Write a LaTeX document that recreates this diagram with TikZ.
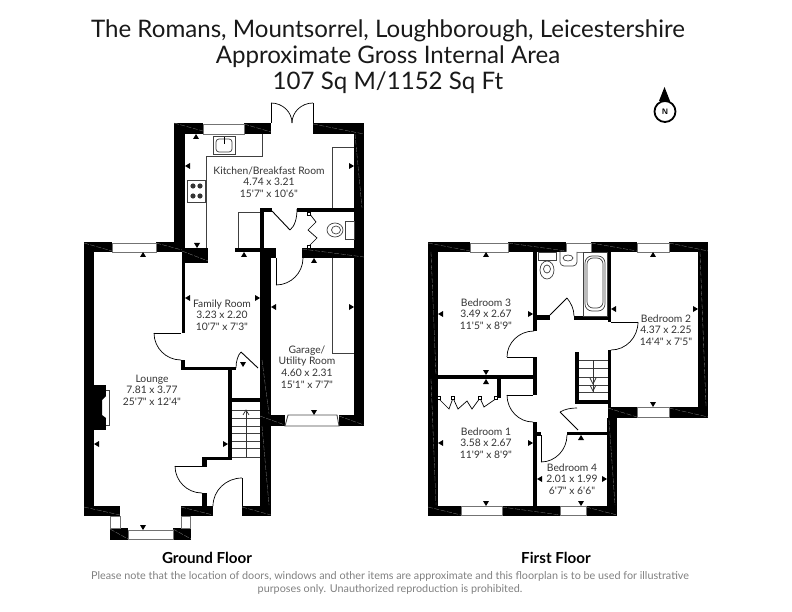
\documentclass[tikz,border=0pt]{standalone}
\usepackage{fontspec}
\usetikzlibrary{calc}
\newfontfamily\planfont{Lato}
\tikzset{
  wall/.style={fill=black,draw=none},
  seam/.style={draw=black!50,line width=0.3pt,dash pattern=on 5pt off 1.5pt},
  pane/.style={draw=black!55,line width=0.9pt,fill=white},
  fitting/.style={draw=black!75,line width=0.7pt,fill=white},
  leaf/.style={draw=black,line width=0.9pt},
  jamb/.style={draw=black,line width=0.5pt,fill=white},
  roomlabel/.style={align=center,inner sep=0pt,text=black!80,font=\planfont\fontsize{10.3}{11.6}\selectfont},
  floorlabel/.style={inner sep=0pt,font=\planfont\bfseries\fontsize{15.2}{15}\selectfont},
  tick/.pic={\fill[black] (0,0) -- (-3,5) -- (3,5) -- cycle;}
}
% quarter swing: hinge, open end of leaf, end on the wall
\newcommand{\doorswing}[3]{\draw[leaf] (#1) -- (#2);
  \draw[black,line width=0.7pt] (#2) .. controls ($(#2)+.552*(#3)-.552*(#1)$) and ($(#3)+.552*(#2)-.552*(#1)$) .. (#3);}
\begin{document}
\begin{tikzpicture}[x=1pt,y=-1pt]
  \useasboundingbox (0,0) rectangle (792,612);
  % heading
  \node (heading) at (388,57) [align=center,inner sep=0pt,text=black!90,font=\planfont\fontsize{24.1}{26}\selectfont]
    {The Romans, Mountsorrel, Loughborough, Leicestershire\\Approximate Gross Internal Area\\107 Sq M/1152 Sq Ft};
  % north point
  \draw[black,line width=1.8pt] (665,111.5) circle (10.5);
  \fill[black] (664.5,87) -- (659,101) -- (670,101) -- cycle;
  \node (north) at (665,112) [inner sep=0pt,font=\fontsize{8}{8}\selectfont\sffamily\bfseries] {N};

  % ---- ground floor walls
  \draw[wall] (174,123) rectangle (203,134);
  \draw[wall] (244,123) rectangle (271,134);
  \draw[wall] (313,123) rectangle (364,134);
  \draw[wall] (174,123) rectangle (185,252);
  \draw[wall] (354,123) rectangle (364,426);
  \draw[wall] (297,208) rectangle (364,212);
  \draw[wall] (260,208) rectangle (272,212);
  \draw[wall] (260,208) rectangle (264,248);
  \draw[wall] (235,248) rectangle (276,252);
  \draw[wall] (260,248) rectangle (276,258);
  \draw[wall] (260,248) rectangle (271,516);
  \draw[wall] (302,248) rectangle (364,258);
  \draw[wall] (84,242) rectangle (112,252);
  \draw[wall] (156,242) rectangle (185,252);
  \draw[wall] (182,248) rectangle (208,263);
  \draw[wall] (84,242) rectangle (94,516);
  \draw[wall] (84,506) rectangle (120,516);
  \draw[wall] (181,506) rectangle (213,516);
  \draw[wall] (242,506) rectangle (271,516);
  \draw[wall] (182,263) rectangle (185,333);
  \draw[wall] (181,360) rectangle (185,370);
  \draw[wall] (181,367) rectangle (236,370);
  \draw[wall] (228,370) rectangle (232,460);
  \draw[wall] (202,457) rectangle (232,460);
  \draw[wall] (202,457) rectangle (207,467);
  \draw[wall] (202,493) rectangle (207,506);
  \draw[wall] (232,398) rectangle (260,402);
  \draw[wall] (110,528) rectangle (128,540);
  \draw[wall] (173,528) rectangle (191,540);
  \draw[wall] (260,415) rectangle (285,426);
  \draw[wall] (339,415) rectangle (364,426);
  % ground floor windows
  \draw[pane] (203,124) rectangle (244,134);
  \draw[pane] (112,243) rectangle (156,252);
  \draw[pane] (128,530) rectangle (173,539.5);
  \draw[pane] (110.5,516) rectangle (120,528);
  \draw[pane] (181,516) rectangle (190.5,528);
  \draw[black!70,line width=0.9pt,fill=white] (285,426) -- (288,415) -- (337,415) -- (339,426) -- cycle;

  % ground floor doors
  \doorswing{271,123}{271,103}{292,123}
  \doorswing{313,123}{313,103}{292,123}
  \doorswing{181,333}{154,333}{181,360}
  \doorswing{202,466}{175,466}{202,493}
  \doorswing{242,506}{242,478}{213,506}
  \doorswing{276,258}{276,285}{303,258}
  \draw[leaf] (272,211) -- (290,230);
  \draw[black,line width=0.7pt] (290,230) .. controls (295,226) and (297,218) .. (297,209);
  \draw[leaf] (258,368) -- (241,352);
  \draw[black,line width=0.7pt] (241,352) .. controls (238,355) and (236,361) .. (236,368);
  \draw[black,line width=0.7pt] (309,213) -- (316,222) -- (308,230) -- (317,238) -- (309,246);
  \draw[jamb] (307.5,212) rectangle (310.5,215);
  \draw[jamb] (307.5,245) rectangle (310.5,248);

  % kitchen units
  \draw[fitting,fill=none] (262,134) -- (262,156) -- (206,156) -- (206,248);
  \draw[fitting,fill=none] (238,248) -- (238,212) -- (260,212);
  \draw[fitting,fill=none] (354,147) -- (332,147) -- (332,208);
  \draw[fitting,fill=none] (332,258) -- (332,353) -- (354,353);
  \draw[fitting] (213,136) rectangle (235,154);
  \draw[fitting,rounded corners=3pt] (216,139) rectangle (232,152);
  \draw[black,line width=1pt] (224,137) -- (224,144);
  \draw[fitting] (187,180) rectangle (205,202);
  \foreach \hobx in {193,200} {
    \foreach \hoby in {186,196} {
      \fill[black!80] (\hobx,\hoby) circle (2.6);
    }
  }
  % WC
  \draw[fitting] (345,221) rectangle (354,239);
  \draw[fitting] (335,230) ellipse (8 and 7);
  \draw[fitting] (336,230) ellipse (4.5 and 4);

  % fireplace
  \draw[wall] (94,385) rectangle (106,396);
  \draw[wall] (94,418) rectangle (106,430);
  \draw[wall] (94,396) -- (106,396) -- (102,400) -- (102,415) -- (106,418) -- (94,418) -- cycle;
  \draw[fitting,fill=none] (106,390) -- (109,390) -- (109,425) -- (106,425);

  % ground floor stairs
  \foreach \treadY in {410,418,426,433,441,448,457} {
    \draw[black!75,line width=0.7pt] (232,\treadY) -- (260,\treadY);
  }
  \draw[black!80,line width=0.7pt] (246,457) -- (246,410);
  \draw[black!80,line width=0.7pt] (243,415) -- (246,410) -- (249,415);

  % ---- first floor walls
  \draw[wall] (428,242) rectangle (470,252);
  \draw[wall] (508,242) rectangle (566,252);
  \draw[wall] (591,242) rectangle (637,252);
  \draw[wall] (669,242) rectangle (708,252);
  \draw[wall] (428,242) rectangle (438,516);
  \draw[wall] (698,242) rectangle (708,418);
  \draw[wall] (608,407) rectangle (637,418);
  \draw[wall] (669,407) rectangle (708,418);
  \draw[wall] (608,252) rectangle (611,322);
  \draw[wall] (608,350) rectangle (611,407);
  \draw[wall] (607,418) rectangle (617,516);
  \draw[wall] (428,506) rectangle (461,516);
  \draw[wall] (502,506) rectangle (560,516);
  \draw[wall] (586,506) rectangle (617,516);
  \draw[wall] (533,252) rectangle (537,331);
  \draw[wall] (533,315) rectangle (550,320);
  \draw[wall] (533,357) rectangle (537,379);
  \draw[wall] (438,375) rectangle (537,379);
  \draw[wall] (497,379) rectangle (501,398);
  \draw[wall] (533,379) rectangle (537,395);
  \draw[wall] (533,422) rectangle (537,506);
  \draw[wall] (537,432) rectangle (541,436);
  \draw[wall] (567,432) rectangle (607,435);
  \draw[wall] (574,316) rectangle (611,320);
  \draw[wall] (575,352) rectangle (579,404);
  \draw[wall] (575,400) rectangle (608,404);
  % first floor windows
  \draw[pane] (470,243) rectangle (508,252);
  \draw[pane] (566,243) rectangle (591,252);
  \draw[pane] (637,243) rectangle (669,252);
  \draw[pane] (637,407) rectangle (669,417);
  \draw[pane] (461,506) rectangle (502,515.5);
  \draw[pane] (560,506) rectangle (586,515.5);

  % wall seams
  \foreach \seamAx/\seamAy/\seamBx/\seamBy in {174/123/203/131, 244/124/271/132, 313/124/364/134, 84/243/112/251,
      156/243/182/250, 182/251/208/261, 84/507/120/515, 181/507/213/515, 242/507/271/515,
      110/529/128/539, 173/529/191/539, 260/416/285/425, 339/416/364/425, 302/249/364/257,
      428/243/470/251, 508/243/566/251, 591/243/637/251, 669/243/708/251,
      428/507/461/515, 502/507/560/515, 586/507/617/515, 608/408/637/417, 669/408/708/417,
      355/134/362/208, 262/360/269/414, 262/426/269/505, 700/252/706/406, 431/252/436/375,
      431/379/436/505, 609/420/615/505} {
    \draw[seam] (\seamAx,\seamAy) -- (\seamBx,\seamBy);
  }

  % first floor doors
  \doorswing{611,322}{638,322}{611,350}
  \doorswing{534,357}{507,357}{534,331}
  \doorswing{533,395}{507,395}{533,422}
  \doorswing{541,435}{541,462}{567,435}
  \draw[leaf] (550,315) -- (567,298);
  \draw[black,line width=0.7pt] (567,298) .. controls (571,303) and (574,309) .. (574,316);
  \draw[leaf] (578,430) -- (560,412);
  \draw[black,line width=0.7pt] (560,412) .. controls (565,409) and (571,408) .. (577,408);
  % bifold wardrobe
  \draw[black,line width=0.7pt] (438,398) -- (449,409) -- (453,398) -- (458,409) -- (467,401) -- (472,409) -- (480,398) -- (484,407) -- (497,398);
  \foreach \jambx in {439,453,480,496} {
    \draw[jamb] (\jambx-1.5,396.5) rectangle (\jambx+1.5,399.5);
  }

  % bathroom
  \draw[fitting] (583,252) rectangle (607,316);
  \draw[fitting,rounded corners=7pt] (585,256) rectangle (605,311);
  \draw[fitting,rounded corners=6pt] (587,258) rectangle (603,308);
  \draw[fitting] (538,252) rectangle (556,260);
  \draw[fitting] (547,270) ellipse (7 and 9);
  \draw[fitting] (547,269) ellipse (3.5 and 4);
  \draw[fitting,rounded corners=4pt] (560,252) -- (560,266) -- (577,266) -- (577,252);
  \draw[fitting] (568,258) ellipse (5 and 3);

  % first floor stairs
  \foreach \treadY in {360,368,377,385,392} {
    \draw[black!75,line width=0.7pt] (579,\treadY) -- (608,\treadY);
  }
  \draw[black!80,line width=0.7pt] (593,360) -- (593,392);
  \draw[black!80,line width=0.7pt] (590,385) -- (593,391) -- (596,385);
  \draw[black!80,line width=0.7pt] (590,378) -- (593,384) -- (596,378);

  % measuring points
  \foreach \tickx/\ticky/\tickrot in {196/134/0,185/166/90,354/166/-90,197/248/180,244/252/0,
      314/258/0,185/298/90,260/298/-90,271/307/90,354/307/-90,314/415/180,143/252/0,
      94/444/90,228/444/-90,143/530/180,243/367/180,
      486/252/0,438/314/90,533/314/-90,486/375/180,486/379/0,438/443/90,533/443/-90,
      486/506/180,653/252/0,611/309/90,698/309/-90,653/407/180,537/479/90,607/479/-90,
      581/435/0,581/506/180} {
    \pic[rotate=\tickrot] at (\tickx,\ticky) {tick};
  }

  % room labels
  \node (kitchen) at (269,182) [roomlabel] {Kitchen/Breakfast Room\\4.74 x 3.21\\15'7" x 10'6"};
  \node (family) at (222,315) [roomlabel] {Family Room\\3.23 x 2.20\\10'7" x 7'3"};
  \node (lounge) at (152,390) [roomlabel] {Lounge\\7.81 x 3.77\\25'7" x 12'4"};
  \node (garage) at (307,367) [roomlabel] {Garage/\\Utility Room\\4.60 x 2.31\\15'1" x 7'7"};
  \node (bedthree) at (486,314) [roomlabel] {Bedroom 3\\3.49 x 2.67\\11'5" x 8'9"};
  \node (bedtwo) at (666,330) [roomlabel] {Bedroom 2\\4.37 x 2.25\\14'4" x 7'5"};
  \node (bedone) at (486,443) [roomlabel] {Bedroom 1\\3.58 x 2.67\\11'9" x 8'9"};
  \node (bedfour) at (572,479) [roomlabel] {Bedroom 4\\2.01 x 1.99\\6'7" x 6'6"};

  % floor names and note
  \node (ground) at (207,558) [floorlabel] {Ground Floor};
  \node (first) at (556,558) [floorlabel] {First Floor};
  \node (note) at (390,582.5) [align=center,inner sep=0pt,text=black!50,font=\planfont\fontsize{10.8}{13}\selectfont]
    {Please note that the location of doors, windows and other items are approximate and this floorplan is to be used for illustrative\\purposes only. Unauthorized reproduction is prohibited.};
\end{tikzpicture}
\end{document}
